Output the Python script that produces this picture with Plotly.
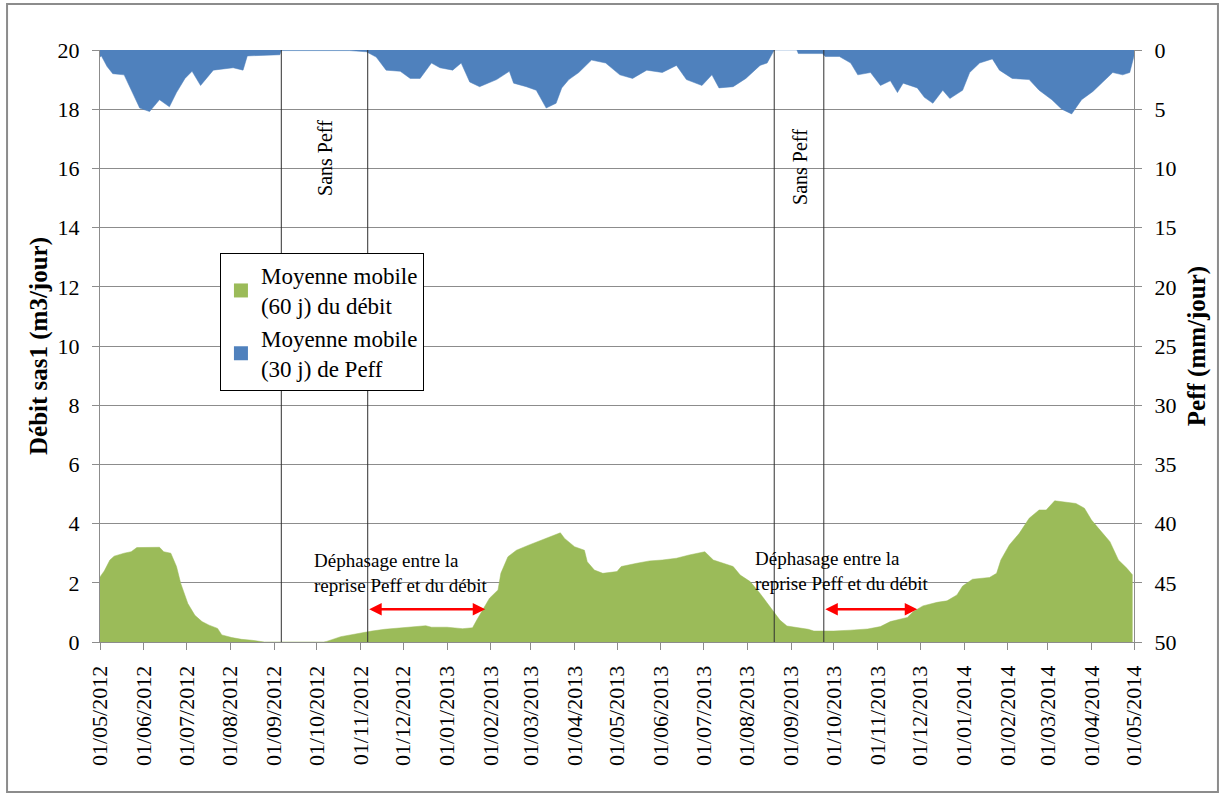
import plotly.graph_objects as go

# ---------------- data ----------------
debit_dates = [
    "2012-05-01", "2012-05-04", "2012-05-08", "2012-05-11", "2012-05-18", "2012-05-23",
    "2012-05-27", "2012-06-01", "2012-06-12", "2012-06-15", "2012-06-20", "2012-06-24",
    "2012-06-27", "2012-07-02", "2012-07-07", "2012-07-12", "2012-07-17", "2012-07-23",
    "2012-07-26", "2012-08-02", "2012-08-09", "2012-08-16", "2012-08-23", "2012-08-25",
    "2012-10-06", "2012-10-08", "2012-10-18", "2012-10-25", "2012-11-02", "2012-11-09",
    "2012-11-18", "2012-11-30", "2012-12-09", "2012-12-17", "2012-12-21", "2013-01-01",
    "2013-01-12", "2013-01-19", "2013-01-22", "2013-01-26", "2013-01-31", "2013-02-06",
    "2013-02-08", "2013-02-13", "2013-02-19", "2013-02-28", "2013-03-07", "2013-03-16",
    "2013-03-22", "2013-03-25", "2013-04-01", "2013-04-08", "2013-04-10", "2013-04-15",
    "2013-04-21", "2013-05-01", "2013-05-04", "2013-05-15", "2013-05-24", "2013-06-02",
    "2013-06-12", "2013-06-21", "2013-07-02", "2013-07-08", "2013-07-15", "2013-07-22",
    "2013-07-27", "2013-08-03", "2013-08-10", "2013-08-17", "2013-08-24", "2013-08-29",
    "2013-09-05", "2013-09-13", "2013-09-17", "2013-10-01", "2013-10-13", "2013-10-25",
    "2013-11-03", "2013-11-10", "2013-11-22", "2013-11-26", "2013-12-03", "2013-12-13",
    "2013-12-20", "2013-12-27", "2013-12-31", "2014-01-07", "2014-01-19", "2014-01-24",
    "2014-01-27", "2014-02-02", "2014-02-09", "2014-02-16", "2014-02-23", "2014-02-28",
    "2014-03-06", "2014-03-14", "2014-03-21", "2014-03-27", "2014-04-01", "2014-04-07",
    "2014-04-14", "2014-04-20", "2014-04-26", "2014-04-30",
]
debit_values = [
    2.20, 2.40, 2.77, 2.90, 3.00, 3.05,
    3.19, 3.20, 3.20, 3.05, 3.00, 2.55,
    1.98, 1.30, 0.90, 0.69, 0.57, 0.46,
    0.24, 0.15, 0.09, 0.06, 0.02, 0.00,
    0.00, 0.02, 0.18, 0.24, 0.32, 0.37,
    0.43, 0.48, 0.50, 0.55, 0.50, 0.50,
    0.45, 0.48, 0.74, 1.08, 1.48, 1.76,
    2.32, 2.88, 3.10, 3.28, 3.41, 3.56,
    3.69, 3.50, 3.22, 3.10, 2.71, 2.43,
    2.32, 2.38, 2.55, 2.66, 2.74, 2.77,
    2.83, 2.94, 3.05, 2.77, 2.66, 2.55,
    2.26, 2.04, 1.64, 1.19, 0.74, 0.54,
    0.50, 0.43, 0.37, 0.37, 0.40, 0.44,
    0.52, 0.69, 0.83, 1.02, 1.22, 1.34,
    1.39, 1.59, 1.89, 2.12, 2.18, 2.32,
    2.77, 3.28, 3.67, 4.18, 4.46, 4.46,
    4.77, 4.71, 4.68, 4.52, 4.12, 3.78,
    3.39, 2.77, 2.49, 2.26,
]

peff_dates = [
    "2012-05-01", "2012-05-02", "2012-05-06", "2012-05-10", "2012-05-18", "2012-05-24",
    "2012-05-29", "2012-06-05", "2012-06-12", "2012-06-19", "2012-06-24", "2012-06-30",
    "2012-07-05", "2012-07-11", "2012-07-20", "2012-08-03", "2012-08-10", "2012-08-13",
    "2012-09-05", "2012-09-06", "2012-10-24", "2012-11-05", "2012-11-12", "2012-11-19",
    "2012-11-29", "2012-12-06", "2012-12-13", "2012-12-21", "2012-12-27", "2013-01-05",
    "2013-01-11", "2013-01-17", "2013-01-24", "2013-02-05", "2013-02-14", "2013-02-17",
    "2013-02-26", "2013-03-05", "2013-03-12", "2013-03-19", "2013-03-23", "2013-03-28",
    "2013-04-04", "2013-04-13", "2013-04-23", "2013-05-03", "2013-05-12", "2013-05-22",
    "2013-06-02", "2013-06-12", "2013-06-19", "2013-06-30", "2013-07-07", "2013-07-12",
    "2013-07-22", "2013-07-31", "2013-08-10", "2013-08-15", "2013-08-19", "2013-08-20",
    "2013-09-05", "2013-09-06", "2013-09-23", "2013-09-25", "2013-10-05", "2013-10-13",
    "2013-10-18", "2013-10-27", "2013-11-03", "2013-11-10", "2013-11-15", "2013-11-19",
    "2013-11-29", "2013-12-04", "2013-12-10", "2013-12-17", "2013-12-22", "2013-12-31",
    "2014-01-05", "2014-01-12", "2014-01-21", "2014-01-26", "2014-02-04", "2014-02-16",
    "2014-02-23", "2014-03-04", "2014-03-11", "2014-03-18", "2014-03-25", "2014-04-02",
    "2014-04-09", "2014-04-16", "2014-04-23", "2014-04-28", "2014-05-01",
]
peff_values = [
    0.6, 0.5, 1.4, 2.0, 2.1, 3.6,
    4.9, 5.2, 4.2, 4.8, 3.6, 2.4,
    1.8, 3.0, 1.7, 1.5, 1.7, 0.5,
    0.4, 0.05, 0.05, 0.15, 0.6, 1.7,
    1.8, 2.4, 2.4, 1.1, 1.5, 1.7,
    1.1, 2.7, 3.1, 2.5, 1.8, 2.8,
    3.1, 3.4, 4.9, 4.5, 3.2, 2.5,
    1.9, 0.85, 1.1, 2.1, 2.4, 1.7,
    1.9, 1.3, 2.5, 3.0, 2.1, 3.2,
    3.1, 2.4, 1.3, 1.1, 0.3, 0.0,
    0.0, 0.3, 0.3, 0.55, 0.55, 1.1,
    2.1, 1.9, 3.0, 2.6, 3.6, 2.8,
    3.2, 4.0, 4.5, 3.4, 4.1, 3.4,
    1.9, 1.1, 0.75, 1.7, 2.4, 2.5,
    3.4, 4.2, 5.0, 5.4, 4.2, 3.5,
    2.7, 1.9, 2.1, 1.9, 0.5,
]

sans_peff_bounds = ["2012-09-06", "2012-11-06", "2013-08-20", "2013-09-24"]
dephasage_starts = ["2012-11-06", "2013-09-24"]
dephasage_ends = ["2013-01-28", "2013-11-29"]

GREEN = "#9BBB59"
BLUE = "#4F81BD"
FONT = "'Liberation Serif', 'Times New Roman', Tinos, 'DejaVu Serif', serif"
GRID = "#8c8c8c"

fig = go.Figure()

fig.add_trace(go.Scatter(
    x=debit_dates, y=debit_values, mode="lines", fill="tozeroy",
    line=dict(color=GREEN, width=0.5), fillcolor=GREEN,
    showlegend=False, hoverinfo="skip", yaxis="y"))

fig.add_trace(go.Scatter(
    x=peff_dates, y=peff_values, mode="lines", fill="tozeroy",
    line=dict(color=BLUE, width=0.5), fillcolor=BLUE,
    showlegend=False, hoverinfo="skip", yaxis="y2"))

# legend entries
fig.add_trace(go.Scatter(
    x=[None], y=[None], mode="markers",
    marker=dict(symbol="square", size=14, color=GREEN),
    name="Moyenne mobile<br>(60 j) du débit"))
fig.add_trace(go.Scatter(
    x=[None], y=[None], mode="markers",
    marker=dict(symbol="square", size=14, color=BLUE),
    name="Moyenne mobile<br>(30 j) de Peff"))

shapes = []
for d in sans_peff_bounds:
    shapes.append(dict(type="line", xref="x", yref="paper", x0=d, x1=d, y0=0, y1=1,
                       line=dict(color="#303030", width=1), layer="above"))
# outer frame
shapes.append(dict(type="rect", xref="paper", yref="paper",
                   x0=-0.0899, x1=1.0812, y0=-0.2534, y1=1.0777,
                   line=dict(color="#8c8c8c", width=2), layer="above"))

annotations = []
for s, e in zip(dephasage_starts, dephasage_ends):
    annotations.append(dict(x=e, y=1.11, ax=s, ay=1.11, xref="x", yref="y",
                            axref="x", ayref="y", text="", showarrow=True,
                            arrowhead=2, startarrowhead=2, arrowside="end+start",
                            arrowsize=1, startarrowsize=1,
                            arrowwidth=2.5, arrowcolor="#ff0000"))

annotations.append(dict(x="2012-09-28", y=2.33, xref="x", yref="y",
                        text="Déphasage entre la<br>reprise Peff et du débit",
                        showarrow=False, xanchor="left", yanchor="middle", align="left",
                        font=dict(family=FONT, size=19, color="black")))
annotations.append(dict(x="2013-08-05", y=2.40, xref="x", yref="y",
                        text="Déphasage entre la<br>reprise Peff et du débit",
                        showarrow=False, xanchor="left", yanchor="middle", align="left",
                        font=dict(family=FONT, size=19, color="black")))
annotations.append(dict(x="2012-10-07", y=0.818, xref="x", yref="paper",
                        text="Sans Peff", textangle=-90, showarrow=False,
                        xanchor="center", yanchor="middle",
                        font=dict(family=FONT, size=20, color="black")))
annotations.append(dict(x="2013-09-07", y=0.802, xref="x", yref="paper",
                        text="Sans Peff", textangle=-90, showarrow=False,
                        xanchor="center", yanchor="middle",
                        font=dict(family=FONT, size=20, color="black")))

fig.update_layout(
    width=1223, height=794,
    margin=dict(l=100, r=89, t=50, b=152),
    paper_bgcolor="white", plot_bgcolor="white",
    font=dict(family=FONT, size=22, color="black"),
    showlegend=True,
    legend=dict(x=0.116, y=0.657, xanchor="left", yanchor="top",
                bgcolor="white", bordercolor="black", borderwidth=1,
                font=dict(family=FONT, size=23, color="black"),
                tracegroupgap=0, itemwidth=30),
    xaxis=dict(
        type="date", range=["2012-05-01", "2014-05-01"],
        tick0="2012-05-01", dtick="M1", tickformat="%d/%m/%Y", tickangle=-90,
        ticks="outside", ticklen=7, tickcolor=GRID,
        showline=True, linecolor=GRID, linewidth=1,
        showgrid=False, zeroline=False, ticklabelstandoff=7,
        tickfont=dict(family=FONT, size=22, color="black")),
    yaxis=dict(
        range=[0, 20], dtick=2, tick0=0,
        ticks="outside", ticklen=7, tickcolor=GRID,
        showline=True, linecolor=GRID, linewidth=1,
        showgrid=True, gridcolor=GRID, gridwidth=1, zeroline=False,
        tickfont=dict(family=FONT, size=22, color="black"),
        ticklabelstandoff=8,
        title=dict(text="<b>Débit sas1 (m3/jour)</b>", standoff=2,
                   font=dict(family=FONT, size=25, color="black"))),
    yaxis2=dict(
        range=[50, 0], dtick=5, tick0=0, overlaying="y", side="right",
        ticks="outside", ticklen=7, tickcolor=GRID,
        showline=True, linecolor=GRID, linewidth=1,
        showgrid=False, zeroline=False,
        tickfont=dict(family=FONT, size=22, color="black"),
        ticklabelstandoff=8,
        title=dict(text="<b>Peff (mm/jour)</b>", standoff=12,
                   font=dict(family=FONT, size=25, color="black"))),
    shapes=shapes,
    annotations=annotations,
)

fig.write_html("out.html", config={"displayModeBar": False},
               post_script="document.body.style.margin='0';")
